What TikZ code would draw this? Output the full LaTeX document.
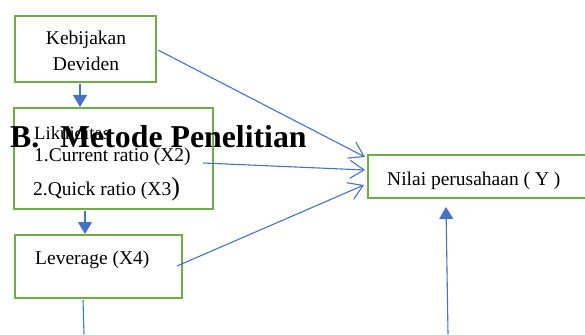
\documentclass[tikz,border=0pt]{standalone}
\usepackage{fontspec}
\setmainfont{Liberation Serif}
\usetikzlibrary{arrows.meta,calc}
\definecolor{boxgreen}{RGB}{112,173,71}
\definecolor{lineblue}{RGB}{68,114,196}
\tikzset{
  box/.style={draw=boxgreen,line width=2pt,fill=white,inner sep=0pt,minimum width=#1},
  txt/.style={anchor=base west,inner sep=0pt,font=\fontsize{19.5}{22}\selectfont},
  conn/.style={draw=lineblue,line width=1.1pt},
  filledtip/.style={conn,-{Triangle[length=12pt,width=14pt]}},
  opentip/.style={conn,-{Straight Barb[length=14pt,width=18pt,line width=1.1pt]}}
}
\begin{document}
\begin{tikzpicture}[x=1pt,y=-1pt]
\useasboundingbox (0,0) rectangle (585,334);
% boxes
\node[box=141pt,minimum height=66pt] (kb) at (85.5,49) {};
\node[box=199pt,minimum height=101pt] (lq) at (113.5,158.5) {};
\node[box=167pt,minimum height=63pt] (lv) at (98.5,266.5) {};
\node[box=224pt,minimum height=43pt] (nv) at (480,176.5) {};
% texts
\node[txt,anchor=base] (t1) at (86,45) {Kebijakan};
\node[txt,anchor=base] (t2) at (86,70.5) {Deviden};
\node[txt,font=\fontsize{18.7}{20}\selectfont] (t3) at (34,139) {Likuiditas};
\node[txt] (t4) at (34,161.5) {1.Current ratio (X2)};
\node[txt] (t5) at (33,195) {2.Quick ratio (X3\fontsize{26}{28}\selectfont)};
\node[txt] (t6) at (35,264.5) {Leverage (X4)};
\node[txt] (t7) at (387,185) {Nilai perusahaan ( Y )};
% coordinates
\coordinate (a1) at ($(kb.south)+(-5.5,1)$);
\coordinate (a2) at ($(lq.north)+(-33.5,0)$);
\coordinate (b1) at ($(lq.south)+(-28.5,1)$);
\coordinate (b2) at ($(lv.north)+(-13.5,0)$);
\coordinate (c1) at ($(lv.south)+(-15.5,1)$);
\coordinate (c2) at (84,334);
\coordinate (d1) at (448,334);
\coordinate (d2) at ($(nv.south)+(-34,8)$);
\coordinate (e1) at ($(kb.east)+(1,1)$);
\coordinate (e2) at ($(nv.west)+(-2,-19.5)$);
\coordinate (f1) at (203,163);
\coordinate (f2) at ($(nv.west)+(-2,-6.5)$);
\coordinate (g1) at (177,266);
\coordinate (g2) at ($(nv.west)+(-3,8.5)$);
% connectors
\draw[filledtip] (a1) -- (a2);
\draw[filledtip] (b1) -- (b2);
\draw[conn] (c1) -- (c2);
\draw[filledtip] (d1) -- (d2);
\draw[opentip] (e1) -- (e2);
\draw[opentip] (f1) -- (f2);
\draw[opentip] (g1) -- (g2);
% title
\node[anchor=base west,inner sep=0pt,font=\fontsize{31.8}{34}\selectfont\bfseries] (tb) at (10,147) {B.};
\node[anchor=base west,inner sep=0pt,font=\fontsize{31.8}{34}\selectfont\bfseries] (tm) at (60,147) {Metode Penelitian};
\end{tikzpicture}
\end{document}
